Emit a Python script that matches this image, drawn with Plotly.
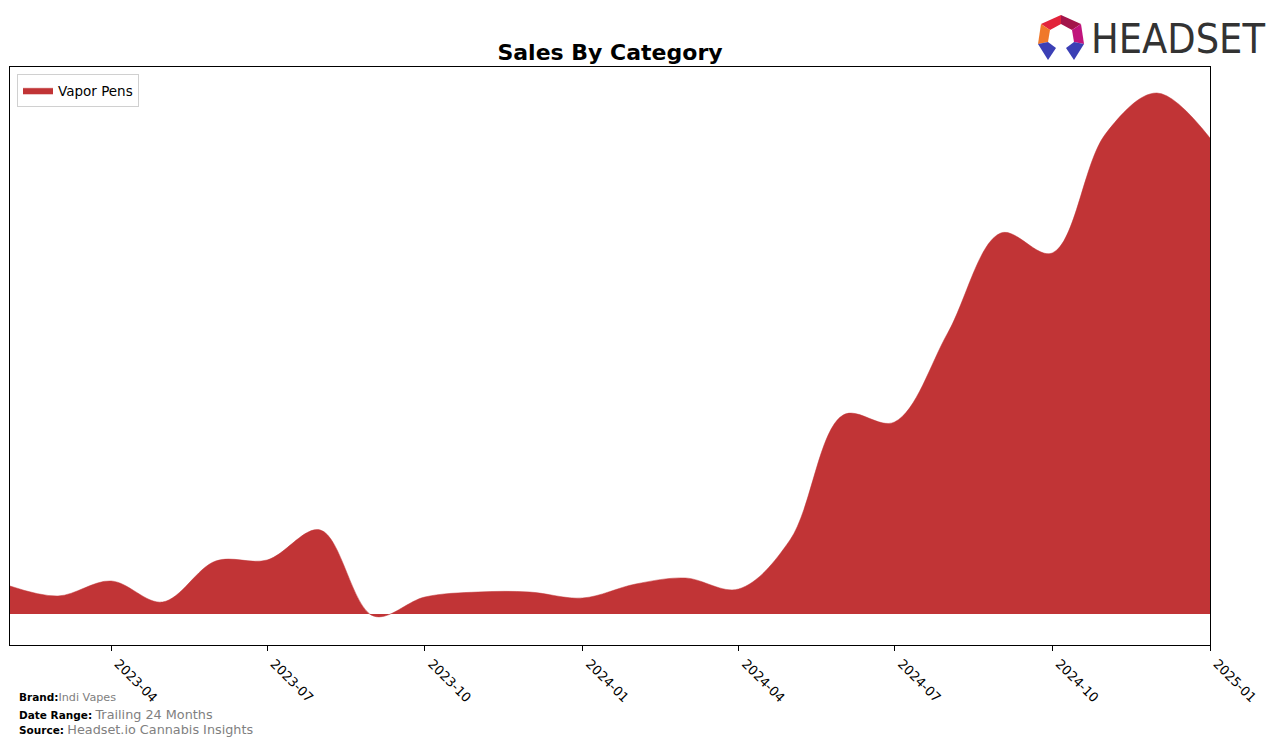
import plotly.graph_objects as go

# ---- data (y in arbitrary sales units) ----
months = ["2023-02-01", "2023-03-01", "2023-04-01", "2023-05-01", "2023-06-01", "2023-07-01",
          "2023-08-01", "2023-09-01", "2023-10-01", "2023-11-01", "2023-12-01", "2024-01-01",
          "2024-02-01", "2024-03-01", "2024-04-01", "2024-05-01", "2024-06-01", "2024-07-01",
          "2024-08-01", "2024-09-01", "2024-10-01", "2024-11-01", "2024-12-01", "2025-01-01"]
vapor_pens = [28, 18, 33, 12, 53, 54, 84, -2, 17, 22, 22, 16,
              30, 36, 25, 74, 199, 192, 281, 381, 361, 480, 521, 476]

tick_vals = ["2023-04-01", "2023-07-01", "2023-10-01", "2024-01-01",
             "2024-04-01", "2024-07-01", "2024-10-01", "2025-01-01"]
tick_text = ["2023-04", "2023-07", "2023-10", "2024-01",
             "2024-04", "2024-07", "2024-10", "2025-01"]

W, H = 1276, 746
L, R, T, B = 10, 66, 67, 101
PW, PH = W - L - R, H - T - B


def px(x):
    return (x - L) / PW


def py(y):
    return (H - B - y) / PH


fig = go.Figure()
fig.add_trace(go.Scatter(
    x=months, y=vapor_pens, name="Vapor Pens", mode="lines",
    line=dict(shape="spline", smoothing=1.0, color="#C13436", width=0.5),
    fill="tozeroy", fillcolor="#C13436",
))

# ---- logo icon (shapes) ----
def poly(points, color):
    d = "M " + " L ".join(f"{px(a):.5f},{py(b):.5f}" for a, b in points) + " Z"
    return dict(type="path", xref="paper", yref="paper", path=d,
                fillcolor=color, line=dict(width=0), layer="above")

shapes = [
    poly([(1041, 24), (1061, 15), (1061, 24), (1050, 30)], "#E2233B"),
    poly([(1061, 15), (1081, 24), (1072, 30), (1061, 24)], "#A3154B"),
    poly([(1041, 24), (1050, 30), (1048, 42), (1038, 44)], "#F0782A"),
    poly([(1081, 24), (1084, 44), (1074, 42), (1072, 30)], "#C0147C"),
    poly([(1038, 44), (1048, 42), (1056, 48), (1048, 60)], "#3B3FB5"),
    poly([(1084, 44), (1074, 42), (1066, 48), (1074, 60)], "#3B3FB5"),
]

annotations = [
    dict(text="HEADSET", x=px(1089), y=py(39), xref="paper", yref="paper",
         xanchor="left", yanchor="middle", showarrow=False,
         font=dict(family="DejaVu Sans Condensed, Roboto", size=41, color="#333333")),
    dict(text="<b>Brand:</b><span style='color:#808080;font-size:11.2px'>Indi Vapes</span>",
         x=px(17), y=py(697), xref="paper", yref="paper", xanchor="left", yanchor="middle",
         showarrow=False, font=dict(family="DejaVu Sans", size=10.5, color="black")),
    dict(text="<b>Date Range:</b> <span style='color:#808080;font-size:12.8px'>Trailing 24 Months</span>",
         x=px(17), y=py(714), xref="paper", yref="paper", xanchor="left", yanchor="middle",
         showarrow=False, font=dict(family="DejaVu Sans", size=10.5, color="black")),
    dict(text="<b>Source:</b> <span style='color:#808080;font-size:12.8px'>Headset.io Cannabis Insights</span>",
         x=px(17), y=py(729), xref="paper", yref="paper", xanchor="left", yanchor="middle",
         showarrow=False, font=dict(family="DejaVu Sans", size=10.5, color="black")),
]

fig.update_layout(
    width=W, height=H,
    margin=dict(l=L, r=R, t=T, b=B),
    paper_bgcolor="white", plot_bgcolor="white",
    font=dict(family="DejaVu Sans", color="black"),
    title=dict(text="<b>Sales By Category</b>", x=610 / W, xanchor="center",
               y=1 - 52 / H, yanchor="middle", xref="container", yref="container",
               font=dict(family="DejaVu Sans", size=22, color="black")),
    showlegend=True,
    legend=dict(x=px(17), y=py(74), xanchor="left", yanchor="top",
                bgcolor="white", bordercolor="#D0D0D0", borderwidth=1,
                font=dict(family="DejaVu Sans", size=13.5, color="black")),
    xaxis=dict(type="date", range=["2023-02-01", "2025-01-01"],
               tickmode="array", tickvals=tick_vals, ticktext=tick_text,
               tickangle=45, ticks="outside", ticklen=5, tickcolor="black",
               ticklabelshift=7,
               tickfont=dict(family="DejaVu Sans", size=13, color="black"),
               showgrid=False, zeroline=False,
               showline=True, linecolor="black", linewidth=1, mirror=True),
    yaxis=dict(range=[-31, 547], showticklabels=False, ticks="",
               showgrid=False, zeroline=False,
               showline=True, linecolor="black", linewidth=1, mirror=True),
    shapes=shapes,
    annotations=annotations,
)

fig.write_html("out.html")
